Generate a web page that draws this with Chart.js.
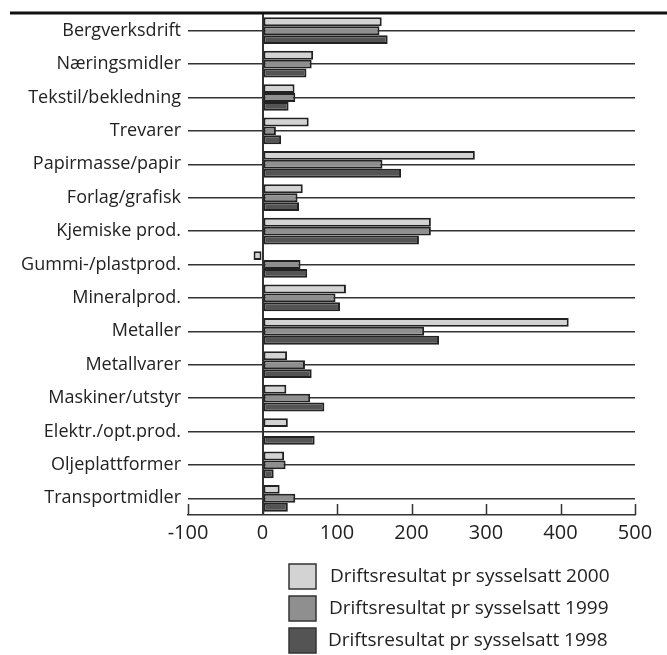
<!DOCTYPE html>
<html><head><meta charset="utf-8">
<script src="https://cdn.jsdelivr.net/npm/chart.js@4/dist/chart.umd.min.js"></script>
<style>html,body{margin:0;padding:0;background:#fff}#wrap{width:667px;height:655px;position:relative}</style>
</head><body><div id="wrap"><canvas id="c" width="667" height="655"></canvas></div>
<script>
const categories = ["Bergverksdrift","Næringsmidler","Tekstil/bekledning","Trevarer","Papirmasse/papir","Forlag/grafisk","Kjemiske prod.","Gummi-/plastprod.","Mineralprod.","Metaller","Metallvarer","Maskiner/utstyr","Elektr./opt.prod.","Oljeplattformer","Transportmidler"];
const values2000 = [160, 68, 43, 62, 285, 54, 226, -12, 112, 411, 33, 32, 34, 29, 23];
const values1999 = [157, 66, 44, 18, 161, 47, 226, 51, 98, 217, 57, 64, 2, 31, 44];
const values1998 = [168, 59, 35, 25, 186, 49, 210, 60, 104, 237, 66, 83, 70, 15, 34];
const seriesLabels = ["Driftsresultat pr sysselsatt 2000","Driftsresultat pr sysselsatt 1999","Driftsresultat pr sysselsatt 1998"];
const xTicks = [-100, 0, 100, 200, 300, 400, 500];

const FONT = "'Open Sans', 'DejaVu Sans', sans-serif";
const fills = ["#d3d3d3", "#8f8f8f", "#545454"];
const edge = "#222";

const extras = {
  id: 'extras',
  afterDraw(chart) {
    const ctx = chart.ctx, x = chart.scales.x, area = chart.chartArea;
    ctx.save();
    // top rule
    ctx.strokeStyle = '#111'; ctx.lineWidth = 3;
    ctx.beginPath(); ctx.moveTo(10, 13); ctx.lineTo(667, 13); ctx.stroke();
    // inward tick marks
    ctx.strokeStyle = '#333'; ctx.lineWidth = 1.5;
    xTicks.forEach(v => {
      const px = Math.round(x.getPixelForValue(v)) + 0.5;
      ctx.beginPath(); ctx.moveTo(px, area.bottom); ctx.lineTo(px, area.bottom - 11); ctx.stroke();
    });
    // legend
    ctx.font = "19px " + FONT; ctx.textBaseline = 'middle';
    chart.data.datasets.forEach((ds, i) => {
      const y = 564 + i * 32;
      ctx.fillStyle = ds.backgroundColor; ctx.fillRect(289, y, 27, 25);
      ctx.strokeStyle = '#333'; ctx.lineWidth = 1.5; ctx.strokeRect(289, y, 27, 25);
      ctx.fillStyle = '#222'; ctx.fillText(ds.label, 330 - i, y + 13);
    });
    ctx.restore();
  }
};

new Chart(document.getElementById('c'), {
  type: 'bar',
  data: {
    labels: categories,
    datasets: [
      { label: seriesLabels[0], data: values2000, backgroundColor: fills[0] },
      { label: seriesLabels[1], data: values1999, backgroundColor: fills[1] },
      { label: seriesLabels[2], data: values1998, backgroundColor: fills[2] }
    ].map(d => Object.assign(d, { borderColor: edge, borderWidth: 2, borderSkipped: false, categoryPercentage: 0.8, barPercentage: 1 }))
  },
  options: {
    indexAxis: 'y',
    responsive: false,
    animation: false,
    layout: { padding: { top: 14, right: 32, left: 0, bottom: 0 } },
    plugins: { legend: { display: false }, tooltip: { enabled: false } },
    scales: {
      x: {
        min: -100, max: 500,
        afterFit(s) { s.height = 140; s.paddingLeft = 0; s.paddingRight = 0; },
        afterBuildTicks(s) { s.ticks = xTicks.map(v => ({ value: v })); },
        grid: { drawTicks: false, lineWidth: 2, color: c => (c.tick && c.tick.value === 0) ? '#333' : 'rgba(0,0,0,0)' },
        border: { display: true, color: '#333', width: 1.5 },
        ticks: { color: '#222', font: { family: FONT, size: 20 }, padding: 6 }
      },
      y: {
        afterFit(s) { s.width = 188; s.paddingTop = 0; s.paddingBottom = 0; },
        grid: { offset: false, drawTicks: false, color: '#333', lineWidth: 1.5 },
        border: { display: false },
        ticks: { color: '#222', font: { family: FONT, size: 18 }, padding: 7 }
      }
    }
  },
  plugins: [extras]
});
</script></body></html>
